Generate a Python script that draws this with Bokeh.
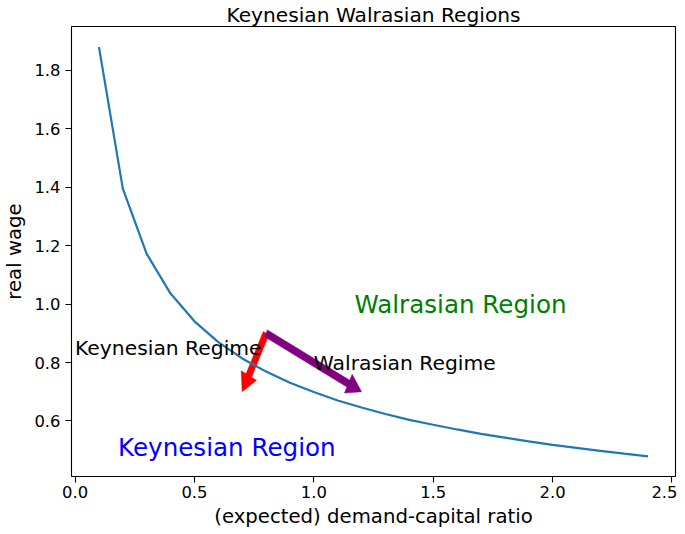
import math
from bokeh.plotting import figure
from bokeh.models import Range1d, FixedTicker, ColumnDataSource
from bokeh.core.properties import value
from bokeh.embed import file_html
from bokeh.resources import INLINE

# ---- data ----
ratio = [0.1, 0.2, 0.3, 0.4, 0.5, 0.6, 0.7, 0.8, 0.9, 1.0, 1.1, 1.2,
         1.3, 1.4, 1.5, 1.6, 1.7, 1.8, 1.9, 2.0, 2.1, 2.2, 2.3, 2.4]
wage = [1.880, 1.395, 1.172, 1.036, 0.941, 0.870, 0.814, 0.769, 0.731, 0.699,
        0.670, 0.646, 0.624, 0.604, 0.587, 0.571, 0.556, 0.543, 0.530, 0.518,
        0.508, 0.498, 0.488, 0.479]

x_ticks = [0.0, 0.5, 1.0, 1.5, 2.0, 2.5]
x_tick_labels = ["0.0", "0.5", "1.0", "1.5", "2.0", "2.5"]
y_ticks = [0.6, 0.8, 1.0, 1.2, 1.4, 1.6, 1.8]
y_tick_labels = ["0.6", "0.8", "1.0", "1.2", "1.4", "1.6", "1.8"]

# arrows: start, delta (tip = start + delta)
arrow_x0 = [0.8, 0.8]
arrow_y0 = [0.9, 0.9]
arrow_dx = [-0.1, 0.4]
arrow_dy = [-0.2, -0.2]
arrow_colors = ["red", "purple"]
arrow_width = 0.026
arrow_head_width = 0.072
arrow_head_length = 0.062

small_text = ["Keynesian Regime", "Walrasian Regime"]
small_text_x = [0.0, 1.0]
small_text_y = [0.85, 0.8]

region_text = ["Walrasian Region", "Keynesian Region"]
region_text_x = [1.17, 0.18]
region_text_y = [1.0, 0.51]
region_colors = ["green", "blue"]

FONT = "DejaVu Sans"

p = figure(width=677, height=531,
           min_border_left=66, min_border_right=2,
           min_border_top=24, min_border_bottom=55,
           x_range=Range1d(-0.015, 2.515), y_range=Range1d(0.41, 1.95),
           output_backend="svg", toolbar_location=None,
           title="Keynesian Walrasian Regions")

p.background_fill_color = "white"
p.border_fill_color = "white"
p.outline_line_color = "black"
p.outline_line_width = 1.1
p.grid.visible = False

p.title.align = "center"
p.title.text_font = FONT
p.title.text_font_size = "20.2px"
p.title.text_font_style = "normal"
p.title.text_color = "black"
p.title.standoff = 0
p.title.offset = 0

for ax, ticks, labels in ((p.xaxis, x_ticks, x_tick_labels),
                          (p.yaxis, y_ticks, y_tick_labels)):
    ax.ticker = FixedTicker(ticks=ticks)
    ax.major_label_overrides = {t: l for t, l in zip(ticks, labels)}
    ax.axis_line_color = None
    ax.major_tick_in = 0
    ax.major_tick_out = 6
    ax.minor_tick_in = 0
    ax.minor_tick_out = 0
    ax.major_tick_line_color = "black"
    ax.major_tick_line_width = 1.1
    ax.major_label_text_font = FONT
    ax.major_label_text_font_size = "16.4px"
    ax.major_label_text_color = "black"
    ax.axis_label_text_font = FONT
    ax.axis_label_text_font_size = "19.7px"
    ax.axis_label_text_font_style = "normal"
    ax.axis_label_text_color = "black"

p.xaxis.major_label_standoff = 3
p.xaxis.axis_label_standoff = 4
p.yaxis.major_label_standoff = 5
p.yaxis.axis_label_standoff = 5

p.xaxis.axis_label = "(expected) demand-capital ratio"
p.yaxis.axis_label = "real wage"

# arrow polygons (matplotlib FancyArrow-like, in data units)
xs, ys = [], []
for x0, y0, dx, dy in zip(arrow_x0, arrow_y0, arrow_dx, arrow_dy):
    L = math.hypot(dx, dy)
    ux, uy = dx / L, dy / L
    px, py = -uy, ux
    w2, hw2, hl = arrow_width / 2, arrow_head_width / 2, arrow_head_length
    local = [(0, w2), (L - hl, w2), (L - hl, hw2), (L, 0),
             (L - hl, -hw2), (L - hl, -w2), (0, -w2)]
    xs.append([x0 + a * ux + b * px for a, b in local])
    ys.append([y0 + a * uy + b * py for a, b in local])
p.patches(xs, ys, fill_color=arrow_colors, line_color=arrow_colors, line_width=0.5)

p.line(ratio, wage, line_color="#1f77b4", line_width=2.2)

p.text(x=small_text_x, y=small_text_y, text=small_text,
       text_font=value(FONT), text_font_size="20.3px", text_color="black",
       text_align="left", text_baseline="alphabetic")

src = ColumnDataSource(dict(x=region_text_x, y=region_text_y, t=region_text, c=region_colors))
p.text(x="x", y="y", text="t", text_color="c", source=src,
       text_font=value(FONT), text_font_size="24.6px",
       text_align="left", text_baseline="alphabetic")

open("out.html", "w").write(file_html(p, INLINE))
